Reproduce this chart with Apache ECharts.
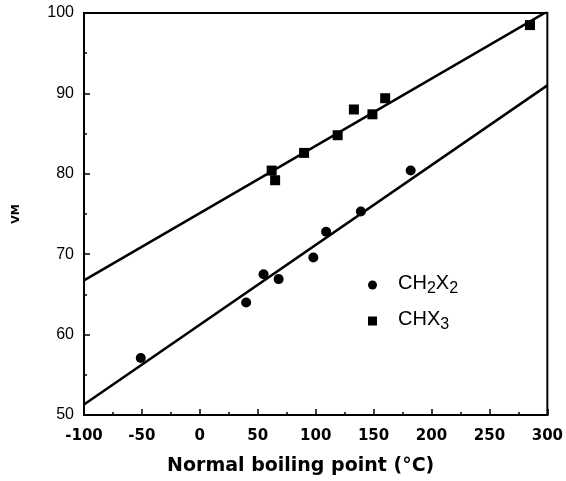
<!DOCTYPE html>
<html>
<head>
<meta charset="utf-8">
<script src="https://cdn.jsdelivr.net/npm/echarts@6/dist/echarts.min.js"></script>
<style>
  html, body { margin: 0; padding: 0; background: #fff; }
  #chart { width: 566px; height: 481px; }
</style>
</head>
<body>
<div id="chart"></div>
<script>
  // CH2X2 points (circles)
  var ch2x2Bp = [-51, 40, 55, 68, 98, 109, 139, 182]
  var ch2x2Vm = [57.1, 64.0, 67.5, 66.9, 69.6, 72.8, 75.3, 80.4]
  // CHX3 points (squares)
  var chx3Bp = [62, 65, 90, 119, 133, 149, 160, 285]
  var chx3Vm = [80.4, 79.2, 82.6, 84.8, 88.0, 87.4, 89.4, 98.5]
  // fitted lines, end points
  var fitX = [-100, 300]
  var chx3FitY = [66.75, 100.2]
  var ch2x2FitY = [51.3, 91.0]

  function pairs(xs, ys) {
    return xs.map(function (x, i) { return [x, ys[i]] })
  }

  var chart = echarts.init(document.getElementById('chart'))
  chart.setOption({
    animation: false,
    backgroundColor: '#fff',
    grid: {
      left: 84, right: 17, top: 13, bottom: 64,
      show: true, borderColor: '#000', borderWidth: 2
    },
    legend: {
      data: ['CH2X2', 'CHX3'],
      orient: 'vertical',
      left: 363,
      top: 268,
      itemWidth: 9,
      itemHeight: 9,
      itemGap: 12,
      formatter: function (name) {
        return name === 'CH2X2' ? '{a|CH}{s|2}{a|X}{s|2}' : '{a|CHX}{s|3}'
      },
      textStyle: {
        padding: [0, 0, 0, 16],
        rich: {
          a: { fontFamily: 'Liberation Sans', fontSize: 20, color: '#000', lineHeight: 24, verticalAlign: 'top' },
          s: { fontFamily: 'Liberation Sans', fontSize: 16, color: '#000', lineHeight: 14, verticalAlign: 'bottom' }
        }
      }
    },
    xAxis: {
      type: 'value',
      min: -100,
      max: 300,
      interval: 50,
      name: 'Normal boiling point (°C)',
      nameLocation: 'middle',
      nameGap: 42,
      nameTextStyle: {
        fontFamily: 'DejaVu Sans', fontWeight: 'bold', fontSize: 19, color: '#000',
        padding: [0, 30, 0, 0]
      },
      axisLine: { onZero: false, lineStyle: { color: '#000', width: 2 } },
      axisTick: { inside: true, length: 6, lineStyle: { color: '#000', width: 1.5 } },
      minorTick: { show: true, splitNumber: 2, length: 3, lineStyle: { color: '#000', width: 1.5 } },
      splitLine: { show: false },
      axisLabel: {
        margin: 14,
        fontFamily: 'DejaVu Sans', fontWeight: 'bold', fontSize: 15, color: '#000'
      }
    },
    yAxis: {
      type: 'value',
      min: 50,
      max: 100,
      interval: 10,
      name: 'VM',
      nameLocation: 'middle',
      nameRotate: 90,
      nameGap: 62,
      nameTextStyle: { fontFamily: 'DejaVu Sans', fontWeight: 'bold', fontSize: 11, color: '#000' },
      axisLine: { onZero: false, lineStyle: { color: '#000', width: 2 } },
      axisTick: { inside: true, length: 6, lineStyle: { color: '#000', width: 1.5 } },
      minorTick: { show: true, splitNumber: 2, length: 3, lineStyle: { color: '#000', width: 1.5 } },
      splitLine: { show: false },
      axisLabel: {
        margin: 10,
        fontFamily: 'Liberation Sans', fontSize: 16, color: '#000'
      }
    },
    series: [
      {
        name: 'CH2X2',
        type: 'scatter',
        symbol: 'circle',
        symbolSize: 10,
        itemStyle: { color: '#000', opacity: 1 },
        data: pairs(ch2x2Bp, ch2x2Vm)
      },
      {
        name: 'CHX3',
        type: 'scatter',
        symbol: 'rect',
        symbolSize: 10,
        itemStyle: { color: '#000', opacity: 1 },
        data: pairs(chx3Bp, chx3Vm)
      },
      {
        name: 'CHX3 fit',
        type: 'line',
        showSymbol: false,
        silent: true,
        lineStyle: { color: '#000', width: 2.5 },
        data: pairs(fitX, chx3FitY)
      },
      {
        name: 'CH2X2 fit',
        type: 'line',
        showSymbol: false,
        silent: true,
        lineStyle: { color: '#000', width: 2.5 },
        data: pairs(fitX, ch2x2FitY)
      }
    ]
  })
</script>
</body>
</html>
